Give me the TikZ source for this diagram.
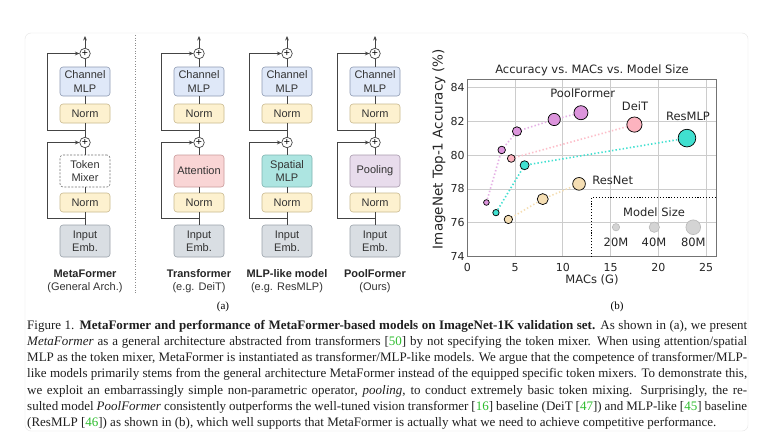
\documentclass[tikz,border=0pt]{standalone}
\usepackage{fontspec}
\setmainfont{Liberation Serif}
\newfontfamily\arialfont{Liberation Sans}
\newfontfamily\plotfont{DejaVu Sans}
\usetikzlibrary{arrows.meta}

\definecolor{linegray}{HTML}{444444}
\definecolor{textgray}{HTML}{333333}
\definecolor{chfill}{HTML}{DFE8F8}
\definecolor{chdraw}{HTML}{8F9BB3}
\definecolor{normfill}{HTML}{FDF1CF}
\definecolor{normdraw}{HTML}{C9B98F}
\definecolor{attnfill}{HTML}{F9D5D5}
\definecolor{attndraw}{HTML}{C99A9A}
\definecolor{spfill}{HTML}{ADE5E1}
\definecolor{spdraw}{HTML}{7FB4B0}
\definecolor{poolfill}{HTML}{E8DCEC}
\definecolor{pooldraw}{HTML}{A89AAD}
\definecolor{embfill}{HTML}{D9DEE3}
\definecolor{embdraw}{HTML}{9AA2AA}
\definecolor{pfcol}{HTML}{DC94DC}
\definecolor{deitcol}{HTML}{FDB3BF}
\definecolor{mlpcol}{HTML}{40E0D0}
\definecolor{rescol}{HTML}{F5DEB3}
\definecolor{citegreen}{HTML}{2EBD2E}

\newcommand{\cit}[1]{\textcolor{citegreen}{#1}}

\begin{document}
\begin{tikzpicture}
        [x=1pt, y=-1pt,
        block/.style={draw, rounded corners=3pt, line width=0.6pt, minimum width=50pt, align=center, inner sep=1pt, text=textgray, font=\arialfont\fontsize{11}{13.3}\selectfont},
        chmlp/.style={block, fill=chfill, draw=chdraw, minimum height=29pt},
        normbox/.style={block, fill=normfill, draw=normdraw, minimum height=19pt},
        mixbox/.style={block, minimum height=32pt},
        embbox/.style={block, fill=embfill, draw=embdraw, minimum height=32pt},
        plusnode/.style={circle, draw=linegray, line width=0.7pt, minimum size=10.5pt, inner sep=0pt, fill=white, font=\arialfont\fontsize{10.5}{10.5}\selectfont},
        conn/.style={draw=linegray, line width=0.8pt},
        arr/.style={conn, -{Stealth[length=4.5pt, width=3.8pt]}},
        coltitle/.style={font=\arialfont\bfseries\fontsize{11}{13}\selectfont, text=black!85},
        colsub/.style={font=\arialfont\fontsize{11}{13}\selectfont, text=black!80},
        plotlab/.style={font=\plotfont\fontsize{11.5}{13}\selectfont, text=black!85, inner sep=0pt},
        ticklab/.style={font=\plotfont\fontsize{11}{13}\selectfont, text=black!85, inner sep=0pt},
        gridline/.style={black!20, line width=0.7pt},
        spine/.style={black!55, line width=0.9pt},
        series/.style={line width=1.6pt, dash pattern=on 1.4pt off 2.2pt},
        marker/.style={draw=black, line width=0.7pt},
        capline/.style={anchor=base west, inner sep=0pt, text=black!88, font=\fontsize{13}{15}\selectfont}]

        \useasboundingbox (0,0) rectangle (762,436);
        \fill[white] (0,0) rectangle (762,436);
        \draw[black!10, fill=white, rounded corners=6pt] (25,33) rectangle (748,431);

        % (a) four blocks
        \foreach \cx/\cn in {85/1, 199/2, 287/3, 375/4} {
          \node[plusnode] (plusa\cn) at (\cx,53.5) {+};
          \coordinate (out\cn) at (\cx,36);
          \node[chmlp] (cmlp\cn) at (\cx,81.5) {Channel\\MLP};
          \node[normbox] (norma\cn) at (\cx,113.5) {Norm};
          \coordinate (bra\cn) at (\cx,130);
          \coordinate (ska\cn) at (\cx-38,130);
          \node[plusnode] (plusb\cn) at (\cx,142.5) {+};
          \node[normbox] (normb\cn) at (\cx,202.5) {Norm};
          \coordinate (brb\cn) at (\cx,218.5);
          \coordinate (skb\cn) at (\cx-38,218.5);
          \node[embbox] (emb\cn) at (\cx,241) {Input\\Emb.};
        }

        % token mixers
        \node[mixbox, draw=black!55, fill=white, dash pattern=on 2pt off 1.5pt] (mix1) at (85,171) {Token\\Mixer};
        \node[mixbox, fill=attnfill, draw=attndraw] (mix2) at (199,171) {Attention};
        \node[mixbox, fill=spfill, draw=spdraw] (mix3) at (287,171) {Spatial\\MLP};
        \node[mixbox, fill=poolfill, draw=pooldraw] (mix4) at (375,171) {Pooling};

        % main path and residual arrows
        \foreach \cn in {1,...,4} {
          \draw[conn] (emb\cn) -- (normb\cn) -- (mix\cn) -- (plusb\cn) -- (norma\cn) -- (cmlp\cn) -- (plusa\cn);
          \draw[arr] (plusa\cn) -- (out\cn);
          \draw[arr] (brb\cn) -- (skb\cn) |- (plusb\cn);
          \draw[arr] (bra\cn) -- (ska\cn) |- (plusa\cn);
        }

        % names under the blocks
        \node[coltitle] (t1) at (85,274) {MetaFormer};
        \node[colsub] (s1) at (85,288) {(General Arch.)};
        \node[coltitle] (t2) at (199,274) {Transformer};
        \node[colsub] (s2) at (199,288) {(e.g. DeiT)};
        \node[coltitle] (t3) at (287,274) {MLP-like model};
        \node[colsub] (s3) at (287,288) {(e.g. ResMLP)};
        \node[coltitle] (t4) at (375,274) {PoolFormer};
        \node[colsub] (s4) at (375,288) {(Ours)};

        \draw[black!45, line width=0.7pt, dash pattern=on 1pt off 1.6pt] (135,35) -- (135,295);
        \node[font=\fontsize{11}{13}\selectfont] (suba) at (223,307) {(a)};

        % (b) scatter plot
        \begin{scope}[shift={(467.3,256.7)}, x=9.55pt, y=16.94pt, shift={(0,-74)}]
          \foreach \gx in {0,5,...,25} {
            \draw[gridline] (\gx,74) -- (\gx,84.47);
            \node[ticklab, anchor=center] (xt\gx) at ([yshift=-10.5pt]\gx,74) {\gx};
          }
          \foreach \gy in {74,76,...,84} {
            \draw[gridline] (0,\gy) -- (26.1,\gy);
            \node[ticklab, anchor=east] (yt\gy) at ([xshift=-2.5pt]0,\gy) {\gy};
          }
          \draw[spine] (0,74) rectangle (26.1,84.47);

          \coordinate (pf1) at (2.0,77.2);
          \coordinate (pf2) at (3.6,80.3);
          \coordinate (pf3) at (5.2,81.4);
          \coordinate (pf4) at (9.1,82.1);
          \coordinate (pf5) at (11.9,82.5);
          \coordinate (dt1) at (4.6,79.8);
          \coordinate (dt2) at (17.5,81.8);
          \coordinate (rm1) at (3.0,76.6);
          \coordinate (rm2) at (6.0,79.4);
          \coordinate (rm3) at (23.0,81.0);
          \coordinate (rn1) at (4.3,76.2);
          \coordinate (rn2) at (7.9,77.4);
          \coordinate (rn3) at (11.7,78.3);

          \draw[series, pfcol!75] (pf1) -- (pf2) -- (pf3) -- (pf4) -- (pf5);
          \draw[series, deitcol!85] (dt1) -- (dt2);
          \draw[series, mlpcol] (rm1) -- (rm2) -- (rm3);
          \draw[series, rescol] (rn1) -- (rn2) -- (rn3);

          \foreach \p/\r in {pf1/2.84, pf2/3.76, pf3/4.57, pf4/6.14, pf5/7.0}
            \filldraw[marker, fill=pfcol] (\p) circle (\r pt);
          \foreach \p/\r in {dt1/3.85, dt2/7.6}
            \filldraw[marker, fill=deitcol] (\p) circle (\r pt);
          \foreach \p/\r in {rm1/3.18, rm2/4.49, rm3/8.83}
            \filldraw[marker, fill=mlpcol] (\p) circle (\r pt);
          \foreach \p/\r in {rn1/4.18, rn2/5.5, rn3/6.35}
            \filldraw[marker, fill=rescol] (\p) circle (\r pt);

          % model size legend
          \draw[black, line width=1.1pt, dash pattern=on 1.1pt off 1.8pt] (13,74) |- (26.1,77.5);
          \foreach \lx/\r in {15.57/3.67, 19.58/5.19, 23.66/7.33}
            \filldraw[fill=black!17, draw=black!28, line width=0.6pt] (\lx,75.74) circle (\r pt);
        \end{scope}

        \node[plotlab] (ptitle) at (592,70) {Accuracy vs.\ MACs vs.\ Model Size};
        \node[plotlab] (xlab) at (592,280) {MACs (G)};
        \node[plotlab, rotate=90, font=\plotfont\fontsize{13.5}{15}\selectfont] (ylab) at (439,149) {ImageNet Top-1 Accuracy (\%)};
        \node[plotlab] (lpf) at (582.7,93.3) {PoolFormer};
        \node[plotlab] (ldt) at (635,106) {DeiT};
        \node[plotlab] (lrm) at (688,116.7) {ResMLP};
        \node[plotlab] (lrn) at (612.7,180) {ResNet};
        \node[plotlab] (lsize) at (654,212.3) {Model Size};
        \node[plotlab] (l20) at (616,242.3) {20M};
        \node[plotlab] (l40) at (654,242.3) {40M};
        \node[plotlab] (l80) at (693.3,242.3) {80M};
        \node[font=\fontsize{11}{13}\selectfont] (subb) at (617,307) {(b)};

        % caption
        \node[capline] (cap1) at (27,329) {\makebox[720pt][s]{Figure 1. \textbf{MetaFormer and performance of MetaFormer-based models on ImageNet-1K validation set.} As shown in (a), we present}};
        \node[capline] (cap2) at (27,345.3) {\makebox[720pt][s]{\textit{MetaFormer} as a general architecture abstracted from transformers [\cit{50}] by not specifying the token mixer. When using attention/spatial}};
        \node[capline] (cap3) at (27,361.6) {\makebox[720pt][s]{MLP as the token mixer, MetaFormer is instantiated as transformer/MLP-like models. We argue that the competence of transformer/MLP-}};
        \node[capline] (cap4) at (27,377.9) {\makebox[720pt][s]{like models primarily stems from the general architecture MetaFormer instead of the equipped specific token mixers. To demonstrate this,}};
        \node[capline] (cap5) at (27,394.2) {\makebox[720pt][s]{we exploit an embarrassingly simple non-parametric operator, \textit{pooling}, to conduct extremely basic token mixing. Surprisingly, the re-}};
        \node[capline] (cap6) at (27,410.5) {\makebox[720pt][s]{sulted model \textit{PoolFormer} consistently outperforms the well-tuned vision transformer [\cit{16}] baseline (DeiT [\cit{47}]) and MLP-like [\cit{45}] baseline}};
        \node[capline] (cap7) at (27,426.8) {(ResMLP [\cit{46}]) as shown in (b), which well supports that MetaFormer is actually what we need to achieve competitive performance.};

        \end{tikzpicture}
\end{document}
